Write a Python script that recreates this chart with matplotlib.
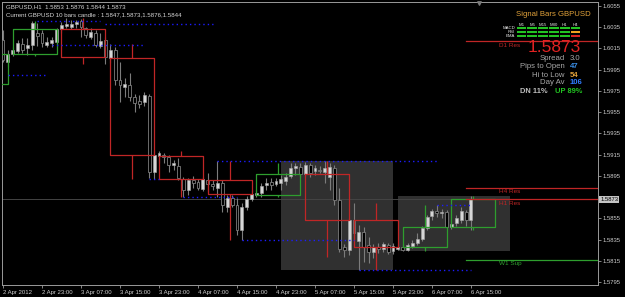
import numpy as np
import matplotlib.pyplot as plt

plt.rcParams['font.family'] = ['Liberation Sans', 'DejaVu Sans']

# GBPUSD H1, bar 0 = 2 Apr 2012 15:00
opens = [1.6023, 1.6002, 1.6010, 1.6013, 1.6019, 1.6015, 1.6018, 1.6030, 1.6030, 1.6018,
         1.6020, 1.6021, 1.6033, 1.6036, 1.6035, 1.6038, 1.6041, 1.6034, 1.6026, 1.6030,
         1.6017, 1.6023, 1.6006, 1.6014, 1.5985, 1.5979, 1.5981, 1.5969, 1.5966, 1.5965,
         1.5970, 1.5899, 1.5914, 1.5915, 1.5913, 1.5905, 1.5904, 1.5892, 1.5882, 1.5891,
         1.5889, 1.5883, 1.5891, 1.5887, 1.5884, 1.5888, 1.5866, 1.5874, 1.5868, 1.5844,
         1.5866, 1.5873, 1.5877, 1.5879, 1.5886, 1.5889, 1.5887, 1.5888, 1.5890, 1.5895,
         1.5902, 1.5903, 1.5897, 1.5905, 1.5900, 1.5901, 1.5899, 1.5894, 1.5902, 1.5872,
         1.5828, 1.5825, 1.5853, 1.5834, 1.5842, 1.5830, 1.5823, 1.5828, 1.5826, 1.5830,
         1.5824, 1.5826, 1.5828, 1.5825, 1.5829, 1.5832, 1.5836, 1.5846, 1.5857, 1.5862,
         1.5860, 1.5861, 1.5847, 1.5851, 1.5853, 1.5861, 1.5853]
highs = [1.6032, 1.6014, 1.6016, 1.6023, 1.6025, 1.6025, 1.6041, 1.6039, 1.6032, 1.6026,
         1.6026, 1.6034, 1.6040, 1.6044, 1.6042, 1.6042, 1.6043, 1.6035, 1.6034, 1.6032,
         1.6030, 1.6026, 1.6019, 1.6016, 1.6002, 1.5987, 1.5992, 1.5972, 1.5971, 1.5974,
         1.5972, 1.5919, 1.5918, 1.5917, 1.5915, 1.5910, 1.5912, 1.5894, 1.5893, 1.5895,
         1.5892, 1.5894, 1.5898, 1.5891, 1.5909, 1.5891, 1.5877, 1.5877, 1.5874, 1.5869,
         1.5876, 1.5882, 1.5882, 1.5888, 1.5893, 1.5893, 1.5893, 1.5896, 1.5898, 1.5907,
         1.5907, 1.5907, 1.5908, 1.5907, 1.5905, 1.5904, 1.5909, 1.5907, 1.5905, 1.5884,
         1.5831, 1.5855, 1.5869, 1.5849, 1.5847, 1.5837, 1.5831, 1.5832, 1.5833, 1.5832,
         1.5832, 1.5831, 1.5831, 1.5832, 1.5835, 1.5841, 1.5848, 1.5858, 1.5864, 1.5868,
         1.5864, 1.5863, 1.5851, 1.5858, 1.5866, 1.5863, 1.5876]
lows = [1.6002, 1.5998, 1.6008, 1.6011, 1.6011, 1.6009, 1.6014, 1.6017, 1.6016, 1.6016,
        1.6016, 1.6018, 1.6030, 1.6034, 1.6033, 1.6034, 1.6026, 1.6025, 1.6024, 1.6016,
        1.6015, 1.6000, 1.6001, 1.5981, 1.5965, 1.5969, 1.5966, 1.5955, 1.5959, 1.5961,
        1.5893, 1.5892, 1.5907, 1.5907, 1.5899, 1.5901, 1.5891, 1.5875, 1.5877, 1.5884,
        1.5882, 1.5881, 1.5880, 1.5882, 1.5875, 1.5861, 1.5861, 1.5866, 1.5839, 1.5835,
        1.5863, 1.5871, 1.5875, 1.5875, 1.5882, 1.5882, 1.5885, 1.5882, 1.5886, 1.5893,
        1.5896, 1.5894, 1.5894, 1.5894, 1.5896, 1.5898, 1.5888, 1.5882, 1.5868, 1.5823,
        1.5819, 1.5820, 1.5835, 1.5806, 1.5814, 1.5813, 1.5818, 1.5822, 1.5823, 1.5821,
        1.5821, 1.5825, 1.5824, 1.5824, 1.5827, 1.5830, 1.5834, 1.5844, 1.5853, 1.5856,
        1.5855, 1.5846, 1.5845, 1.5848, 1.5851, 1.5848, 1.5844]
closes = [1.6004, 1.6010, 1.6014, 1.6020, 1.6014, 1.6018, 1.6039, 1.6027, 1.6020, 1.6021,
          1.6023, 1.6033, 1.6037, 1.6038, 1.6038, 1.6040, 1.6035, 1.6028, 1.6031, 1.6018,
          1.6022, 1.6007, 1.6014, 1.5985, 1.5981, 1.5982, 1.5969, 1.5964, 1.5963, 1.5971,
          1.5899, 1.5915, 1.5917, 1.5913, 1.5905, 1.5907, 1.5893, 1.5882, 1.5891, 1.5888,
          1.5884, 1.5892, 1.5887, 1.5885, 1.5888, 1.5868, 1.5874, 1.5868, 1.5844, 1.5866,
          1.5873, 1.5878, 1.5879, 1.5885, 1.5888, 1.5886, 1.5890, 1.5892, 1.5894, 1.5902,
          1.5904, 1.5897, 1.5905, 1.5898, 1.5902, 1.5900, 1.5902, 1.5903, 1.5872, 1.5826,
          1.5825, 1.5853, 1.5841, 1.5842, 1.5828, 1.5823, 1.5828, 1.5826, 1.5831, 1.5823,
          1.5829, 1.5828, 1.5825, 1.5830, 1.5832, 1.5836, 1.5846, 1.5856, 1.5862, 1.5860,
          1.5861, 1.5847, 1.5850, 1.5855, 1.5862, 1.5853, 1.5873]

# open of the 10-bar block that ends at bar 1 (starts off screen)
prev_block_open = 1.5982
block_first = 2
block_len = 10

# daily ranges shown (first bar of day)
day_starts = [57, 81]

time_ticks = [0, 8, 16, 24, 32, 40, 48, 56, 64, 72, 80, 88, 96]
time_labels = ['2 Apr 2012', '2 Apr 23:00', '3 Apr 07:00', '3 Apr 15:00', '3 Apr 23:00',
               '4 Apr 07:00', '4 Apr 15:00', '4 Apr 23:00', '5 Apr 07:00', '5 Apr 15:00',
               '5 Apr 23:00', '6 Apr 07:00', '6 Apr 15:00']

# blue dotted hi/lo levels
lvl_price = [1.6041, 1.6038, 1.6018, 1.5990, 1.5892, 1.5875, 1.5909, 1.5835, 1.5806, 1.5868]
lvl_from = [7, 21, 10, 1, 30, 37, 44, 49, 73, 89]
lvl_to = [20, 43, 29, 9, 32, 48, 89, 72, 96, 96]

# support / resistance
sr_names = ['D1 Res', 'H4 Res', 'H1 Res', 'W1 Sup']
sr_prices = [1.6022, 1.5884, 1.5873, 1.5816]
sr_colors = ['#c02626', '#c02626', '#c02626', '#2e9e2e']

# signal bars panel
timeframes = ['M1', 'M5', 'M15', 'M30', 'H1', 'H4']
indicators = ['MACD', 'RSI', 'EMA']
sig_macd = [1, 1, 1, 1, 1, 1]
sig_rsi = [1, 1, 1, 1, 1, 0]
sig_ema = [1, 1, 1, 1, 1, -1]
spread = 3.0
pips_to_open = 47
hi_to_low = 54
day_avg = 106
pct_dn = 11
pct_up = 89
block_now = (1.5847, 1.5873, 1.5876, 1.5844)

W, H = 625, 297


def px(x, y):
    return x / W, 1 - y / H


fig = plt.figure(figsize=(W / 100, H / 100), dpi=100, facecolor='black')
ax = fig.add_axes([2 / W, 1 - 285 / H, 596 / W, 283 / H], facecolor='black')
ax.set_xlim(-0.2, 122.06)
ax.set_ylim(1.57922, 1.60588)

o = np.array(opens)
hi = np.array(highs)
lo = np.array(lows)
c = np.array(closes)
x = np.arange(len(o))
n = len(o)

# day boxes
for d in day_starts:
    seg = slice(d, min(d + 24, n))
    ax.fill_between([d, d + 23], lo[seg].min(), hi[seg].max(), color='#303030', lw=0, zorder=1)

# bid line
ax.axhline(c[-1], color='#444444', lw=0.7, zorder=2)

# candles
up = c >= o
body_lo = np.minimum(o, c)
body_h = np.maximum(np.abs(c - o), 0.00004)
ax.vlines(x, lo, hi, color='#7c7c7c', lw=0.8, zorder=3)
ax.bar(x[up], body_h[up], 0.6, bottom=body_lo[up], color='#d6d6d6', edgecolor='#a8a8a8', lw=0.4, zorder=4)
ax.bar(x[~up], body_h[~up], 0.6, bottom=body_lo[~up], color='black', edgecolor='#7c7c7c', lw=0.6, zorder=4)


# 10-bar candles
def draw_block(x0, bo, bh, bl, bc):
    col = '#2e9e2e' if bc >= bo else '#c02626'
    x1 = x0 + block_len - 1
    xm = (x0 + x1) / 2
    ax.plot([x0, x1, x1, x0, x0], [bo, bo, bc, bc, bo], color=col, lw=0.9, zorder=5)
    ax.vlines(xm, max(bo, bc), bh, color=col, lw=0.9, zorder=5)
    ax.vlines(xm, bl, min(bo, bc), color=col, lw=0.9, zorder=5)


draw_block(block_first - block_len, prev_block_open, prev_block_open, prev_block_open, c[block_first - 1])
for s in range(block_first, n, block_len):
    e = min(s + block_len, n)
    draw_block(s, o[s], hi[s:e].max(), lo[s:e].min(), c[e - 1])

# blue dotted levels
for p, a, b in zip(lvl_price, lvl_from, lvl_to):
    ax.plot([a, b], [p, p], color='#1c1cff', lw=1.0, ls=(0, (1, 2.2)), zorder=5)

# S/R lines
for name, p, col in zip(sr_names, sr_prices, sr_colors):
    ax.plot([n - 2, 122.06], [p, p], color=col, lw=0.9, zorder=6)
    ax.annotate(name, (101.7, p), xytext=(0, -1.2), textcoords='offset points',
                va='top', ha='left', color=col, fontsize=4.6, zorder=7)

# axes styling
for sp in ax.spines.values():
    sp.set_color('#9a9a9a')
    sp.set_linewidth(0.7)
ax.set_xticks(time_ticks)
ax.set_xticklabels(time_labels)
for t in ax.get_xticklabels():
    t.set_ha('left')
ax.tick_params(axis='x', colors='#9a9a9a', labelcolor='#cfcfcf', length=2.5, width=0.6,
               pad=1.2, labelsize=4.3)
yt = [round(1.6055 - 0.002 * k, 4) for k in range(14)]
yt = [v for v in yt if abs(v - c[-1]) > 0.0005]
ax.yaxis.tick_right()
ax.set_yticks(yt)
ax.set_yticklabels(['%.4f' % v for v in yt])
ax.tick_params(axis='y', colors='#9a9a9a', labelcolor='#cfcfcf', length=2, width=0.6,
               pad=1.5, labelsize=4.2)
ax.annotate('%.4f' % c[-1], xy=(1, c[-1]), xycoords=('axes fraction', 'data'),
            xytext=(1.6, 0), textcoords='offset points', ha='left', va='center',
            fontsize=4.2, color='black',
            bbox=dict(boxstyle='square,pad=0.18', fc='#c4c4c4', ec='none'))
ax.scatter([0.8003], [0.995], marker='v', s=6, color='#7a7a7a', transform=ax.transAxes,
           zorder=8, clip_on=False)

# header text
fig.text(*px(6, 7), 'GBPUSD,H1  %.4f %.4f %.4f %.4f' % (o[-1], hi[-1], lo[-1], c[-1]),
         color='#d6d6d6', fontsize=4.4, va='center')
fig.text(*px(6, 15), 'Current GBPUSD 10 bars candle : %.4f,%.4f,%.4f,%.4f' % block_now,
         color='#d6d6d6', fontsize=4.4, va='center')

# signal bars panel
fig.text(*px(516, 15), 'Signal Bars GBPUSD', color='#e2a23a', fontsize=5.6, va='center')
sax = fig.add_axes([516 / W, 1 - 38 / H, 65 / W, 12 / H])
sax.set_axis_off()
sax.set_xlim(-0.5, 5.5)
sax.set_ylim(2.5, -0.5)
sig_cols = {1: '#22c322', 0: '#f0a020', -1: '#d82020'}
for r, sig in enumerate([sig_macd, sig_rsi, sig_ema]):
    sax.bar(range(len(sig)), 0.6, width=0.9, bottom=r - 0.3, color=[sig_cols[v] for v in sig])
    sax.text(-0.6, r, indicators[r], color='#e8e8e8', fontsize=3.1, ha='right', va='center')
for i, tf in enumerate(timeframes):
    sax.text(i, -0.85, tf, color='#e8e8e8', fontsize=3.1, ha='center', va='center')

fig.text(*px(581, 48), '%.4f' % c[-1], color='#e02222', fontsize=12.5, ha='right', va='center')
stats = [('Spread', '%.1f' % spread, '#a8a8a8', 58, 'normal'),
         ('Pips to Open', '%d' % pips_to_open, '#3a8ee6', 67, 'bold'),
         ('Hi to Low', '%d' % hi_to_low, '#e2a23a', 75, 'bold'),
         ('Day Av', '%d' % day_avg, '#2f7cff', 83, 'bold')]
for lab, val, col, yy, wt in stats:
    fig.text(*px(565, yy), lab, color='#a8a8a8', fontsize=5.6, ha='right', va='center')
    fig.text(*px(570, yy), val, color=col, fontsize=5.6, ha='left', va='center', weight=wt)
fig.text(*px(520, 92), 'DN %d%%' % pct_dn, color='#bdbdbd', fontsize=5.4, va='center', weight='bold')
fig.text(*px(555, 92), 'UP %d%%' % pct_up, color='#22c322', fontsize=5.4, va='center', weight='bold')

fig.savefig('out.png', dpi=100, facecolor='black')
